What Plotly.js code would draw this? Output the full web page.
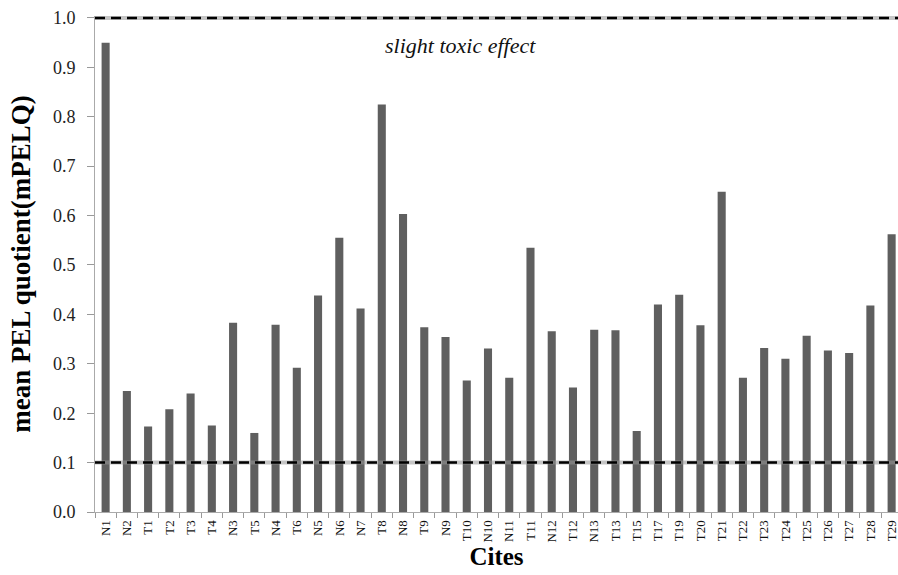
<!DOCTYPE html>
<html><head><meta charset="utf-8">
<script src="https://cdn.plot.ly/plotly-3.0.1.min.js"></script>
<style>html,body{margin:0;padding:0;background:#fff}#chart{width:898px;height:575px}</style>
</head><body><div id="chart"></div>
<script>
const sites = ["N1","N2","T1","T2","T3","T4","N3","T5","N4","T6","N5","N6","N7","T8","N8","T9","N9","T10","N10","N11","T11","N12","T12","N13","T13","T15","T17","T19","T20","T21","T22","T23","T24","T25","T26","T27","T28","T29"];
const mpelq = [0.95,0.245,0.173,0.208,0.24,0.175,0.383,0.16,0.379,0.292,0.438,0.555,0.412,0.825,0.603,0.374,0.354,0.266,0.331,0.272,0.535,0.366,0.252,0.369,0.368,0.164,0.42,0.44,0.378,0.648,0.272,0.332,0.31,0.357,0.327,0.322,0.418,0.562];
const thresholdHigh = 1.0;
const thresholdLow = 0.1;
const annotationText = "slight toxic effect";

const serif = "Liberation Serif";
const data = [{
  type: "bar", x: sites, y: mpelq, width: 0.38,
  marker: {color: "#5f5f5f"}, hoverinfo: "x+y"
}];
function thresholdShapes(v) {
  return [
    {type: "line", xref: "paper", x0: 0, x1: 1, yref: "y", y0: v, y1: v,
     line: {color: "rgba(150,150,150,0.55)", width: 4}},
    {type: "line", xref: "paper", x0: 0, x1: 1, yref: "y", y0: v, y1: v,
     line: {color: "#000", width: 2.5, dash: "10px,6px"}}
  ];
}
const layout = {
  width: 898, height: 575,
  margin: {l: 95, r: 0, t: 16, b: 63},
  paper_bgcolor: "#fff", plot_bgcolor: "#fff",
  showlegend: false,
  xaxis: {
    type: "category", range: [-0.5, 37.3],
    tickangle: -90, tickfont: {family: serif, size: 13, color: "#111"},
    ticks: "outside", ticklen: 5, tickcolor: "#999", tickson: "boundaries",
    ticklabelstandoff: 2,
    showline: true, linecolor: "#aaa", linewidth: 1,
    showgrid: false, zeroline: false,
    title: {text: "Cites", font: {family: serif, size: 25, color: "#000", weight: "bold"}, standoff: 0}
  },
  yaxis: {
    range: [0, 1.004], tickvals: [0,0.1,0.2,0.3,0.4,0.5,0.6,0.7,0.8,0.9,1.0], tickformat: ".1f",
    tickfont: {family: serif, size: 18, color: "#222"},
    ticks: "outside", ticklen: 7, tickcolor: "#999",
    ticklabelstandoff: 8,
    showline: true, linecolor: "#aaa", linewidth: 1,
    showgrid: false, zeroline: false,
    title: {text: "mean PEL quotient(mPELQ)", font: {family: serif, size: 27, color: "#000", weight: "bold"}, standoff: 14}
  },
  shapes: thresholdShapes(thresholdHigh).concat(thresholdShapes(thresholdLow)),
  annotations: [{
    xref: "paper", yref: "y", x: 0.455, y: 0.945, text: annotationText, showarrow: false,
    font: {family: serif, size: 22, color: "#111", style: "italic"}
  }]
};
Plotly.newPlot("chart", data, layout, {displayModeBar: false, staticPlot: true});
</script></body></html>
